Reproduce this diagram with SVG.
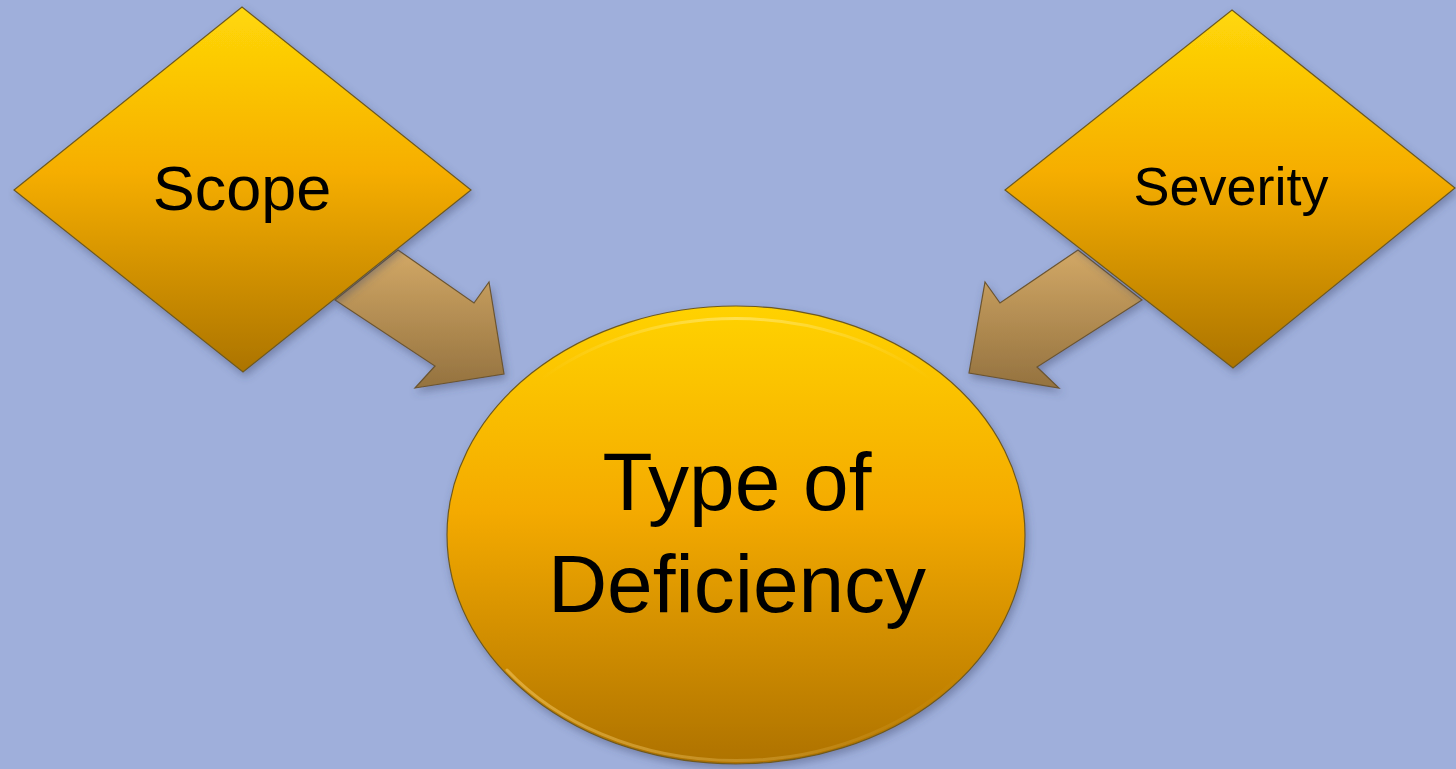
<svg xmlns="http://www.w3.org/2000/svg" width="1456" height="769" viewBox="0 0 1456 769">
  <defs>
    <linearGradient id="gold" x1="0" y1="0" x2="0" y2="1">
      <stop offset="0" stop-color="#FFD808"/>
      <stop offset="0.45" stop-color="#F6AE00"/>
      <stop offset="1" stop-color="#AC7400"/>
    </linearGradient>
    <linearGradient id="goldE" x1="0" y1="0" x2="0" y2="1">
      <stop offset="0" stop-color="#FFD200"/>
      <stop offset="0.45" stop-color="#F4AA00"/>
      <stop offset="1" stop-color="#AE7200"/>
    </linearGradient>
    <linearGradient id="tan" x1="0" y1="0" x2="0" y2="1">
      <stop offset="0" stop-color="#D2A866"/>
      <stop offset="1" stop-color="#94723F"/>
    </linearGradient>
    <linearGradient id="rimTop" x1="0" y1="0" x2="1" y2="0">
      <stop offset="0" stop-color="#FFF0A0" stop-opacity="0"/>
      <stop offset="0.5" stop-color="#FFF0A0" stop-opacity="0.5"/>
      <stop offset="1" stop-color="#FFF0A0" stop-opacity="0"/>
    </linearGradient>
    <linearGradient id="rimBot" x1="0" y1="0" x2="1" y2="0">
      <stop offset="0" stop-color="#F8D070" stop-opacity="0.5"/>
      <stop offset="0.6" stop-color="#F8D070" stop-opacity="0.25"/>
      <stop offset="1" stop-color="#F8D070" stop-opacity="0"/>
    </linearGradient>
    <filter id="shadow" x="-10%" y="-10%" width="130%" height="130%">
      <feDropShadow dx="2" dy="4" stdDeviation="4" flood-color="#404a70" flood-opacity="0.45"/>
    </filter>
    <style>
      .shape { stroke: #6E5A1E; stroke-width: 1.2; filter: url(#shadow); }
      .arrow { fill: url(#tan); stroke: #6B5530; stroke-width: 1.2; filter: url(#shadow); }
      .rim { fill: none; stroke-width: 3; stroke-linecap: round; }
      .label { font-family: "Liberation Sans", Arial, sans-serif; fill: #000; text-anchor: middle; }
    </style>
  </defs>
  <rect width="1456" height="769" fill="#9FAFDB"/>
  <g id="connectors">
    <polygon class="arrow" points="398,250 474,303 489,282 504,374 415,388 435,366 335,300"/>
    <polygon class="arrow" points="1078,250 1000,303 985,282 969,373 1059,388 1037,367 1142,300"/>
  </g>
  <g id="node-scope">
    <polygon class="shape" fill="url(#gold)" points="242,7 471,190 243,372 14,190"/>
    <text class="label" x="242" y="210" font-size="63">Scope</text>
  </g>
  <g id="node-severity">
    <polygon class="shape" fill="url(#gold)" points="1232,10 1455,188 1233,368 1005,190"/>
    <text class="label" x="1231" y="205" font-size="54">Severity</text>
  </g>
  <g id="node-type">
    <ellipse class="shape" fill="url(#goldE)" cx="736" cy="535" rx="289" ry="229"/>
    <path class="rim" stroke="url(#rimTop)" d="M540,380 A286 226 0 0 1 932,380"/>
    <path class="rim" stroke="url(#rimBot)" d="M507,670 A286 226 0 0 0 965,670"/>
    <text class="label" x="737" y="510" font-size="82">Type of</text>
    <text class="label" x="737" y="612" font-size="82">Deficiency</text>
  </g>
</svg>
